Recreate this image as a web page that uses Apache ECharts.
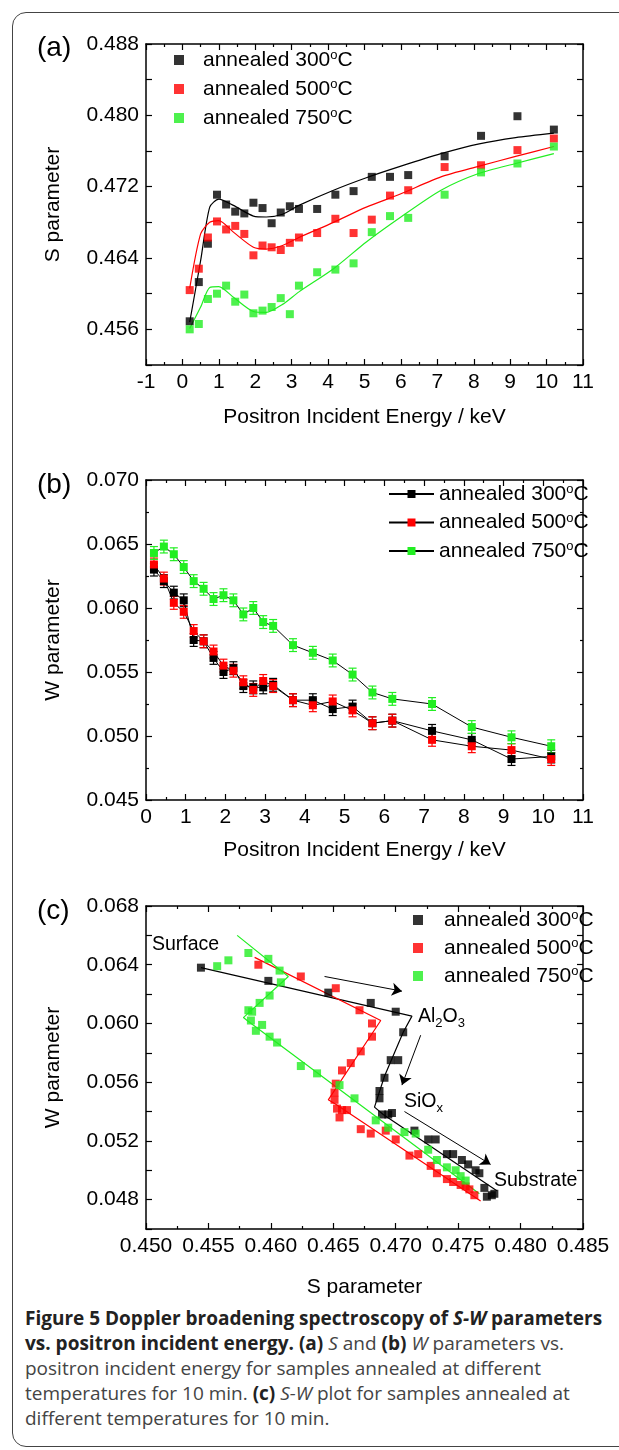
<!DOCTYPE html>
<html>
<head>
<meta charset="utf-8">
<script src="https://cdn.jsdelivr.net/npm/echarts@6/dist/echarts.min.js"></script>
<style>
  html, body { margin: 0; padding: 0; background: #fff; }
  #page { position: relative; width: 619px; height: 1450px; overflow: hidden; }
  #frame { position: absolute; left: 12px; top: 12px; width: 660px; height: 1433px;
           border: 1.5px solid #444; border-radius: 14px; }
  #chart { position: absolute; left: 0; top: 0; width: 619px; height: 1300px; }
  #caption { position: absolute; left: 25px; top: 1306px; font-family: "Open Sans", sans-serif;
             font-size: 19px; line-height: 25px; color: #444; white-space: nowrap; }
  #caption b { color: #222; }
</style>
</head>
<body>
<div id="page">
  <div id="frame"></div>
  <div id="chart"></div>
  <div id="caption">
    <b>Figure 5 Doppler broadening spectroscopy of <i>S-W</i> parameters</b><br>
    <b>vs. positron incident energy. (a)</b> <i>S</i> and <b>(b)</b> <i>W</i> parameters vs.<br>
    positron incident energy for samples annealed at different<br>
    temperatures for 10 min. <b>(c)</b> <i>S-W</i> plot for samples annealed at<br>
    different temperatures for 10 min.
  </div>
</div>
<script>
// positron energies (keV), shared by (a) and (b)
var energy = [0.2, 0.45, 0.7, 0.95, 1.2, 1.45, 1.7, 1.95, 2.2, 2.45, 2.7, 2.95, 3.2, 3.7, 4.2, 4.7, 5.2, 5.7, 6.2, 7.2, 8.2, 9.2, 10.2];

// (a) S parameter
var s300 = [0.4569, 0.4613, 0.4656, 0.4711, 0.4700, 0.4692, 0.4690, 0.4702, 0.4696, 0.4679, 0.4691, 0.4698, 0.4695, 0.4695, 0.4711, 0.4715, 0.4731, 0.4731, 0.4733, 0.4754, 0.4777, 0.4799, 0.4784];
var s500 = [0.4604, 0.4628, 0.4663, 0.4681, 0.4672, 0.4676, 0.4667, 0.4643, 0.4654, 0.4652, 0.4649, 0.4657, 0.4663, 0.4668, 0.4684, 0.4668, 0.4683, 0.4710, 0.4716, 0.4742, 0.4744, 0.4761, 0.4774];
var s750 = [0.4560, 0.4566, 0.4594, 0.4600, 0.4609, 0.4591, 0.4599, 0.4578, 0.4581, 0.4585, 0.4595, 0.4577, 0.4609, 0.4624, 0.4627, 0.4634, 0.4669, 0.4687, 0.4685, 0.4711, 0.4736, 0.4746, 0.4765];

// (a) fit curves
var fitE   = [0.2, 0.5, 0.75, 1.0, 1.4, 1.95, 2.3, 2.75, 3.2, 4.15, 5.05, 6.0, 7.1, 8.15, 9.15, 10.2];
var fit300 = [0.4568, 0.4637, 0.4697, 0.4706, 0.4699, 0.4687, 0.4686, 0.4689, 0.4699, 0.4716, 0.4730, 0.4743, 0.4757, 0.4768, 0.4775, 0.4780];
var fit500 = [0.4606, 0.4667, 0.4680, 0.4682, 0.4669, 0.4652, 0.4650, 0.4654, 0.4663, 0.4680, 0.4697, 0.4712, 0.4731, 0.4743, 0.4754, 0.4765];
var fit750 = [0.4561, 0.4585, 0.4607, 0.4608, 0.4596, 0.4580, 0.4579, 0.4588, 0.4602, 0.4628, 0.4658, 0.4686, 0.4716, 0.4735, 0.4746, 0.4757];

// (b) W parameter
var w300 = [0.0630, 0.0621, 0.0612, 0.0606, 0.0575, 0.0574, 0.0561, 0.0550, 0.0553, 0.0539, 0.0538, 0.0538, 0.0540, 0.0528, 0.0528, 0.0521, 0.0523, 0.0510, 0.0512, 0.0504, 0.0497, 0.0482, 0.0484];
var w500 = [0.0634, 0.0623, 0.0604, 0.0597, 0.0582, 0.0574, 0.0566, 0.0555, 0.0551, 0.0542, 0.0536, 0.0543, 0.0539, 0.0528, 0.0524, 0.0527, 0.0520, 0.0510, 0.0512, 0.0497, 0.0492, 0.0489, 0.0482];
var w750 = [0.0643, 0.0648, 0.0642, 0.0632, 0.0621, 0.0615, 0.0607, 0.0610, 0.0606, 0.0595, 0.0600, 0.0589, 0.0586, 0.0571, 0.0565, 0.0559, 0.0548, 0.0534, 0.0529, 0.0525, 0.0507, 0.0499, 0.0492];
var wErr = 0.0005;

// (c) S-W pairs
var sw300 = [[0.4544,0.0638],[0.4598,0.0629],[0.4646,0.0621],[0.4680,0.0614],[0.4700,0.0608],[0.4706,0.0594],[0.4696,0.0575],[0.4702,0.0575],[0.4691,0.0563],[0.4687,0.0554],[0.4687,0.0549],[0.4689,0.0538],[0.4694,0.0538],[0.4697,0.0539],[0.4715,0.0527],[0.4726,0.0521],[0.4732,0.0521],[0.4741,0.0511],[0.4746,0.0511],[0.4753,0.0507],[0.4758,0.0504],[0.4764,0.0500],[0.4767,0.0498],[0.4771,0.0488],[0.4773,0.0482],[0.4777,0.0483],[0.4779,0.0484]];
var sw500 = [[0.4590,0.0640],[0.4624,0.0632],[0.4652,0.0624],[0.4671,0.0609],[0.4681,0.0600],[0.4681,0.0591],[0.4672,0.0581],[0.4664,0.0573],[0.4657,0.0568],[0.4652,0.0559],[0.4651,0.0553],[0.4651,0.0548],[0.4653,0.0542],[0.4657,0.0541],[0.4661,0.0541],[0.4655,0.0536],[0.4672,0.0528],[0.4680,0.0525],[0.4692,0.0527],[0.4700,0.0521],[0.4711,0.0510],[0.4718,0.0511],[0.4728,0.0503],[0.4733,0.0498],[0.4741,0.0494],[0.4746,0.0492],[0.4752,0.0490],[0.4756,0.0489],[0.4759,0.0487],[0.4763,0.0483]];
var sw750 = [[0.4557,0.0639],[0.4566,0.0643],[0.4582,0.0648],[0.4598,0.0644],[0.4607,0.0636],[0.4608,0.0628],[0.4599,0.0619],[0.4591,0.0614],[0.4582,0.0609],[0.4585,0.0608],[0.4584,0.0602],[0.4593,0.0599],[0.4588,0.0595],[0.4599,0.0591],[0.4605,0.0587],[0.4624,0.0571],[0.4637,0.0566],[0.4655,0.0558],[0.4667,0.0549],[0.4684,0.0534],[0.4694,0.0529],[0.4707,0.0526],[0.4716,0.0525],[0.4726,0.0514],[0.4733,0.0507],[0.4741,0.0502],[0.4748,0.0500],[0.4752,0.0496],[0.4756,0.0493]];

// (c) guide lines
var line300 = [[0.4544,0.0638],[0.4713,0.0605],[0.4706,0.0594],[0.4691,0.0564],[0.4683,0.0543],[0.4690,0.0538],[0.4781,0.0486]];
var line500 = [[0.4587,0.0645],[0.4688,0.0602],[0.4646,0.0548],[0.4652,0.0545],[0.4768,0.0479]];
var line750 = [[0.4573,0.0660],[0.4614,0.0632],[0.4578,0.0604],[0.4581,0.0602],[0.4767,0.0484]];

// (c) arrows [from, to]
var arrows = [
  [[0.4643,0.0632],[0.4705,0.0622]],
  [[0.4720,0.0592],[0.4705,0.0558]],
  [[0.4707,0.0540],[0.4776,0.0504]]
];

var temps = ['300', '500', '750'];
var colors = ['#000000', '#ff0000', '#22ee22'];

var FONT = 'Liberation Sans, Arial, sans-serif';

function pairs(xs, ys) {
  return xs.map(function (x, i) { return [x, ys[i]]; });
}

var tickLine = { color: '#000', width: 1.2 };

// 轴
function axis(opt) {
  var a = {
    type: 'value',
    gridIndex: opt.grid,
    min: opt.min,
    max: opt.max,
    interval: opt.interval,
    position: opt.position,
    axisLine: { onZero: false, lineStyle: { color: '#000', width: 1.5 } },
    axisTick: { inside: true, length: 6, lineStyle: tickLine },
    minorTick: { show: !!opt.minor, splitNumber: 2, length: 3, lineStyle: tickLine },
    splitLine: { show: false },
    minorSplitLine: { show: false },
    axisLabel: {
      show: !!opt.fmt,
      fontSize: 21, color: '#000', fontFamily: FONT, margin: 7,
      formatter: opt.fmt
    }
  };
  if (opt.name) {
    a.name = opt.name;
    a.nameLocation = 'middle';
    a.nameGap = opt.nameGap;
    a.nameTextStyle = { fontSize: 21, color: '#000', fontFamily: FONT };
  }
  return a;
}

function fmtInt(v) { return String(Math.round(v)); }
function fmt3(v) { return v.toFixed(3); }
function fmtA(v) { var k = Math.round(v * 1000); return (k - 456) % 8 === 0 ? (k / 1000).toFixed(3) : ''; }
function fmtC(v) { var k = Math.round(v * 1000); return k % 4 === 0 ? (k / 1000).toFixed(3) : ''; }

var xAxis = [
  axis({ grid: 0, min: -1, max: 11, interval: 1, position: 'bottom', minor: true, fmt: fmtInt, name: 'Positron Incident Energy / keV', nameGap: 42 }),
  axis({ grid: 0, min: -1, max: 11, interval: 1, position: 'top', minor: true }),
  axis({ grid: 1, min: 0, max: 11, interval: 1, position: 'bottom', minor: true, fmt: fmtInt, name: 'Positron Incident Energy / keV', nameGap: 40 }),
  axis({ grid: 1, min: 0, max: 11, interval: 1, position: 'top', minor: true }),
  axis({ grid: 2, min: 0.450, max: 0.485, interval: 0.005, position: 'bottom', minor: true, fmt: fmt3, name: 'S parameter', nameGap: 48 }),
  axis({ grid: 2, min: 0.450, max: 0.485, interval: 0.005, position: 'top', minor: true })
];
var yAxis = [
  axis({ grid: 0, min: 0.452, max: 0.488, interval: 0.004, position: 'left', fmt: fmtA, name: 'S parameter', nameGap: 82 }),
  axis({ grid: 0, min: 0.452, max: 0.488, interval: 0.004, position: 'right' }),
  axis({ grid: 1, min: 0.045, max: 0.070, interval: 0.005, position: 'left', minor: true, fmt: fmt3, name: 'W parameter', nameGap: 82 }),
  axis({ grid: 1, min: 0.045, max: 0.070, interval: 0.005, position: 'right', minor: true }),
  axis({ grid: 2, min: 0.046, max: 0.068, interval: 0.002, position: 'left', fmt: fmtC, name: 'W parameter', nameGap: 82 }),
  axis({ grid: 2, min: 0.046, max: 0.068, interval: 0.002, position: 'right' })
];

var series = [];
var sData = [s300, s500, s750];
var fitData = [fit300, fit500, fit750];
var wData = [w300, w500, w750];
var swData = [sw300, sw500, sw750];
var swLines = [line300, line500, line750];

// (a)
temps.forEach(function (t, i) {
  series.push({
    type: 'line', xAxisIndex: 0, yAxisIndex: 0, data: pairs(fitE, fitData[i]),
    smooth: 0.25, symbol: 'none', silent: true, z: 2,
    lineStyle: { color: colors[i], width: 1.2 }
  });
  series.push({
    type: 'scatter', name: 'a' + t, xAxisIndex: 0, yAxisIndex: 0, data: pairs(energy, sData[i]),
    symbol: 'rect', symbolSize: 8, z: 3, itemStyle: { color: colors[i] }
  });
});

// (b) 误差棒 + 折线
temps.forEach(function (t, i) {
  series.push({
    type: 'custom', xAxisIndex: 2, yAxisIndex: 2, silent: true, z: 2,
    data: energy.map(function (e, k) { return [e, wData[i][k], wErr]; }),
    renderItem: function (params, api) {
      var x = api.value(0), y = api.value(1), d = api.value(2);
      var p1 = api.coord([x, y + d]);
      var p2 = api.coord([x, y - d]);
      var st = { stroke: colors[i], lineWidth: 1.2 };
      return {
        type: 'group',
        children: [
          { type: 'line', shape: { x1: p1[0], y1: p1[1], x2: p2[0], y2: p2[1] }, style: st },
          { type: 'line', shape: { x1: p1[0] - 4, y1: p1[1], x2: p1[0] + 4, y2: p1[1] }, style: st },
          { type: 'line', shape: { x1: p2[0] - 4, y1: p2[1], x2: p2[0] + 4, y2: p2[1] }, style: st }
        ]
      };
    }
  });
  series.push({
    type: 'line', name: 'b' + t, xAxisIndex: 2, yAxisIndex: 2, data: pairs(energy, wData[i]),
    symbol: 'rect', symbolSize: 8, z: 3,
    lineStyle: { color: '#000', width: 1 },
    itemStyle: { color: colors[i] }
  });
});

// (c)
temps.forEach(function (t, i) {
  var ln = {
    type: 'line', xAxisIndex: 4, yAxisIndex: 4, data: swLines[i],
    symbol: 'none', silent: true, z: 2,
    lineStyle: { color: colors[i], width: 1.2 }
  };
  if (i === 0) {
    ln.markLine = {
      silent: true,
      symbol: ['none', 'arrow'],
      symbolSize: 10,
      label: { show: false },
      lineStyle: { color: '#000', width: 1, type: 'solid' },
      data: arrows.map(function (a) { return [{ coord: a[0] }, { coord: a[1] }]; })
    };
  }
  series.push(ln);
  series.push({
    type: 'scatter', name: 'c' + t, xAxisIndex: 4, yAxisIndex: 4, data: swData[i],
    symbol: 'rect', symbolSize: 8, z: 3, itemStyle: { color: colors[i] }
  });
});

function legendName(name) { return 'annealed ' + name.slice(1) + '{sup|o}C'; }
function legendText(pad) {
  return {
    fontSize: 21, lineHeight: 22, color: '#000', fontFamily: FONT, padding: [0, 0, 0, pad],
    rich: { sup: { fontSize: 13, lineHeight: 13, verticalAlign: 'top', color: '#000', fontFamily: FONT } }
  };
}
var subRich = { sub: { fontSize: 13, lineHeight: 13, verticalAlign: 'bottom', fontFamily: FONT, fill: '#000' } };

var option = {
  animation: false,
  grid: [
    { left: 146, top: 44, width: 437, height: 321 },
    { left: 146, top: 480, width: 437, height: 320 },
    { left: 146, top: 906, width: 437, height: 323 }
  ],
  xAxis: xAxis,
  yAxis: yAxis,
  legend: [
    { data: ['a300', 'a500', 'a750'], left: 169, top: 44, orient: 'vertical', itemGap: 7,
      itemWidth: 10, itemHeight: 10, icon: 'rect', selectedMode: false,
      formatter: legendName, textStyle: legendText(14) },
    { data: ['b300', 'b500', 'b750'], left: 383, top: 478, orient: 'vertical', itemGap: 6.5,
      itemWidth: 45, itemHeight: 10, selectedMode: false,
      formatter: legendName, textStyle: legendText(0) },
    { data: ['c300', 'c500', 'c750'], left: 408, top: 904, orient: 'vertical', itemGap: 6,
      itemWidth: 10, itemHeight: 10, icon: 'rect', selectedMode: false,
      formatter: legendName, textStyle: legendText(16) }
  ],
  graphic: [
    { type: 'text', left: 37, top: 34, style: { text: '(a)', fontSize: 28, fontFamily: FONT, fill: '#000' } },
    { type: 'text', left: 37, top: 471, style: { text: '(b)', fontSize: 28, fontFamily: FONT, fill: '#000' } },
    { type: 'text', left: 37, top: 897, style: { text: '(c)', fontSize: 28, fontFamily: FONT, fill: '#000' } },
    { type: 'text', left: 152, top: 935, style: { text: 'Surface', fontSize: 19.5, fontFamily: FONT, fill: '#000' } },
    { type: 'text', left: 418, top: 1004, style: { text: 'Al{sub|2}O{sub|3}', fontSize: 19.5, lineHeight: 26, fontFamily: FONT, fill: '#000', rich: subRich } },
    { type: 'text', left: 404, top: 1089, style: { text: 'SiO{sub|x}', fontSize: 19.5, lineHeight: 26, fontFamily: FONT, fill: '#000', rich: subRich } },
    { type: 'text', left: 494, top: 1171, style: { text: 'Substrate', fontSize: 19.5, fontFamily: FONT, fill: '#000' } }
  ],
  series: series
};

var chart = echarts.init(document.getElementById('chart'));
chart.setOption(option);
</script>
</body>
</html>
